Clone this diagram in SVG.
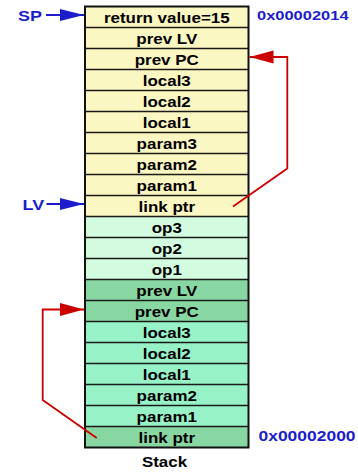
<svg xmlns="http://www.w3.org/2000/svg" width="358" height="473" viewBox="0 0 358 473">
<style>
.y{fill:#fbf7c2}
.g1{fill:#d2fbdf}
.g2{fill:#88d6a2}
.g3{fill:#98f2c8}
.div{stroke:#1a1a1a;stroke-width:1.5;fill:none}
.t{font-family:"Liberation Sans",Arial,Helvetica,sans-serif;font-weight:bold;font-size:15px;fill:#000;text-anchor:middle}
.b{font-family:"Liberation Sans",Arial,Helvetica,sans-serif;font-weight:bold;fill:#1c1ccc}
.red{stroke:#cc0000;stroke-width:1.8;fill:none}
.blue{stroke:#1c1ccc;stroke-width:2;fill:none}
</style>
<defs>
<marker id="rh" markerUnits="userSpaceOnUse" markerWidth="26" markerHeight="16" refX="24" refY="6.5" orient="auto">
<polygon points="0,0 24,6.5 0,13" fill="#cc0000"/>
</marker>
<marker id="bh" markerUnits="userSpaceOnUse" markerWidth="26" markerHeight="14" refX="24" refY="6" orient="auto">
<polygon points="0,0 24,6 0,12" fill="#1c1ccc"/>
</marker>
</defs>
<g id="stack">
<rect class="y" x="85" y="6.5" width="163.5" height="210"/>
<rect class="g1" x="85" y="216.5" width="163.5" height="63"/>
<rect class="g2" x="85" y="279.5" width="163.5" height="42"/>
<rect class="g3" x="85" y="321.5" width="163.5" height="105"/>
<rect class="g2" x="85" y="426.5" width="163.5" height="21"/>
<path class="div" d="M85,27.5H248.5M85,48.5H248.5M85,69.5H248.5M85,90.5H248.5M85,111.5H248.5M85,132.5H248.5M85,153.5H248.5M85,174.5H248.5M85,195.5H248.5M85,216.5H248.5M85,237.5H248.5M85,258.5H248.5M85,279.5H248.5M85,300.5H248.5M85,321.5H248.5M85,342.5H248.5M85,363.5H248.5M85,384.5H248.5M85,405.5H248.5M85,426.5H248.5"/>
<rect x="85" y="6.5" width="163.5" height="441" fill="none" stroke="#111" stroke-width="2"/>
</g>
<g id="labels" transform="translate(166.75 0) scale(1.13 1)">
<text class="t" x="0" y="23.5">return value=15</text>
<text class="t" x="0" y="44.5">prev LV</text>
<text class="t" x="0" y="65.5">prev PC</text>
<text class="t" x="0" y="86.5">local3</text>
<text class="t" x="0" y="107.5">local2</text>
<text class="t" x="0" y="128.5">local1</text>
<text class="t" x="0" y="149.5">param3</text>
<text class="t" x="0" y="170.5">param2</text>
<text class="t" x="0" y="191.5">param1</text>
<text class="t" x="0" y="212.5">link ptr</text>
<text class="t" x="0" y="233.5">op3</text>
<text class="t" x="0" y="254.5">op2</text>
<text class="t" x="0" y="275.5">op1</text>
<text class="t" x="0" y="296.5">prev LV</text>
<text class="t" x="0" y="317.5">prev PC</text>
<text class="t" x="0" y="338.5">local3</text>
<text class="t" x="0" y="359.5">local2</text>
<text class="t" x="0" y="380.5">local1</text>
<text class="t" x="0" y="401.5">param2</text>
<text class="t" x="0" y="422.5">param1</text>
<text class="t" x="0" y="443.5">link ptr</text>
<text class="t" x="-2" y="467">Stack</text>
</g>
<g id="sp">
<text class="b" transform="translate(18 20.5) scale(1.2 1)" font-size="15">SP</text>
</g>
<g id="lv">
<text class="b" transform="translate(22.5 210) scale(1.2 1)" font-size="15">LV</text>
</g>
<g id="addr-top">
<text class="b" transform="translate(257 20) scale(1.22 1)" font-size="13.5">0x00002014</text>
</g>
<g id="addr-bottom">
<text class="b" transform="translate(258.5 440.5) scale(1.18 1)" font-size="14.8">0x00002000</text>
</g>
<g id="connectors">
<path class="blue" d="M46,15H84" marker-end="url(#bh)"/>
<path class="blue" d="M46.5,204H84" marker-end="url(#bh)"/>
<path class="red" d="M233,206.5L287.3,168.5V57H249.5" marker-end="url(#rh)"/>
<path class="red" d="M96.7,438L42.7,400V309.5H84" marker-end="url(#rh)"/>
</g>
</svg>
